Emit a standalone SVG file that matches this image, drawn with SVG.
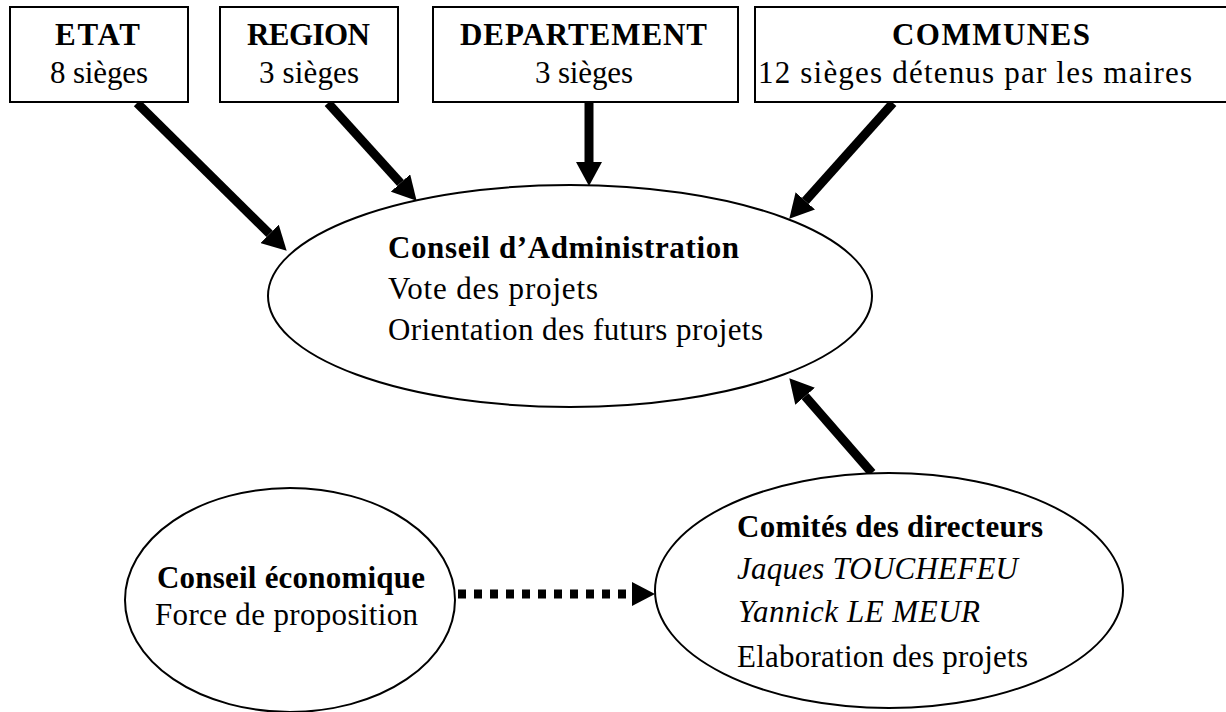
<svg xmlns="http://www.w3.org/2000/svg" width="1226" height="712" viewBox="0 0 1226 712">
<style>
.box{fill:#fff;stroke:#000;stroke-width:2}
.ell{fill:#fff;stroke:#000;stroke-width:2}
.t{font-family:'Liberation Serif',Tinos,'Times New Roman',Times,serif;font-size:31px;fill:#000}
.b{font-weight:bold}
.i{font-style:italic}
.arr{stroke:#000;stroke-width:9;fill:none}
.dot{stroke:#000;stroke-width:9;fill:none;stroke-dasharray:8 8}
</style>
<defs>
<marker id="ah" markerUnits="userSpaceOnUse" markerWidth="24" markerHeight="26" refX="0" refY="13" orient="auto" viewBox="0 0 24 26">
<path d="M0,0 L24,13 L0,26 z" fill="#000"/>
</marker>
</defs>
<rect width="1226" height="712" fill="#fff"/>
<g id="connectors">
<line class="arr" x1="137" y1="103" x2="269.6" y2="233.9" marker-end="url(#ah)"/>
<line class="arr" x1="328" y1="103" x2="400.5" y2="183" marker-end="url(#ah)"/>
<line class="arr" x1="589" y1="103" x2="589" y2="162" marker-end="url(#ah)"/>
<line class="arr" x1="893" y1="103" x2="805.3" y2="200.9" marker-end="url(#ah)"/>
<line class="arr" x1="872" y1="473" x2="805.1" y2="396.3" marker-end="url(#ah)"/>
<line class="dot" x1="458" y1="594" x2="632" y2="594"/>
<path d="M632,582 L655,594 L632,606 z" fill="#000"/>
</g>
<g id="etat">
<rect class="box" x="10" y="7" width="178" height="95"/>
<text class="t b" font-family="Liberation Serif" x="55" y="45" textLength="85" lengthAdjust="spacing">ETAT</text>
<text class="t" font-family="Liberation Serif" x="50" y="83" textLength="98" lengthAdjust="spacing">8 sièges</text>
</g>
<g id="region">
<rect class="box" x="220" y="7" width="178" height="95"/>
<text class="t b" font-family="Liberation Serif" x="247" y="45" textLength="123" lengthAdjust="spacing">REGION</text>
<text class="t" font-family="Liberation Serif" x="259" y="83" textLength="100" lengthAdjust="spacing">3 sièges</text>
</g>
<g id="departement">
<rect class="box" x="433" y="7" width="305" height="95"/>
<text class="t b" font-family="Liberation Serif" x="460" y="45" textLength="247" lengthAdjust="spacing">DEPARTEMENT</text>
<text class="t" font-family="Liberation Serif" x="535" y="83" textLength="98" lengthAdjust="spacing">3 sièges</text>
</g>
<g id="communes">
<rect class="box" x="755" y="7" width="480" height="95"/>
<text class="t b" font-family="Liberation Serif" x="892" y="45" textLength="198" lengthAdjust="spacing">COMMUNES</text>
<text class="t" font-family="Liberation Serif" x="758" y="83" textLength="434" lengthAdjust="spacing">12 sièges détenus par les maires</text>
</g>
<g id="conseil-administration">
<ellipse class="ell" cx="570" cy="296" rx="302" ry="111"/>
<text class="t b" font-family="Liberation Serif" x="388" y="258" textLength="351" lengthAdjust="spacing">Conseil d’Administration</text>
<text class="t" font-family="Liberation Serif" x="388" y="299" textLength="210" lengthAdjust="spacing">Vote des projets</text>
<text class="t" font-family="Liberation Serif" x="388" y="340" textLength="375" lengthAdjust="spacing">Orientation des futurs projets</text>
</g>
<g id="conseil-economique">
<ellipse class="ell" cx="290" cy="600" rx="165" ry="112"/>
<text class="t b" font-family="Liberation Serif" x="157" y="588" textLength="268" lengthAdjust="spacing">Conseil économique</text>
<text class="t" font-family="Liberation Serif" x="155" y="625" textLength="263" lengthAdjust="spacing">Force de proposition</text>
</g>
<g id="comites">
<ellipse class="ell" cx="889" cy="590.5" rx="234" ry="117.5"/>
<text class="t b" font-family="Liberation Serif" x="737" y="537" textLength="306" lengthAdjust="spacing">Comités des directeurs</text>
<text class="t i" font-family="Liberation Serif" x="737" y="579" textLength="281" lengthAdjust="spacing">Jaques TOUCHEFEU</text>
<text class="t i" font-family="Liberation Serif" x="738" y="622" textLength="242" lengthAdjust="spacing">Yannick LE MEUR</text>
<text class="t" font-family="Liberation Serif" x="737" y="667" textLength="291" lengthAdjust="spacing">Elaboration des projets</text>
</g>
</svg>
